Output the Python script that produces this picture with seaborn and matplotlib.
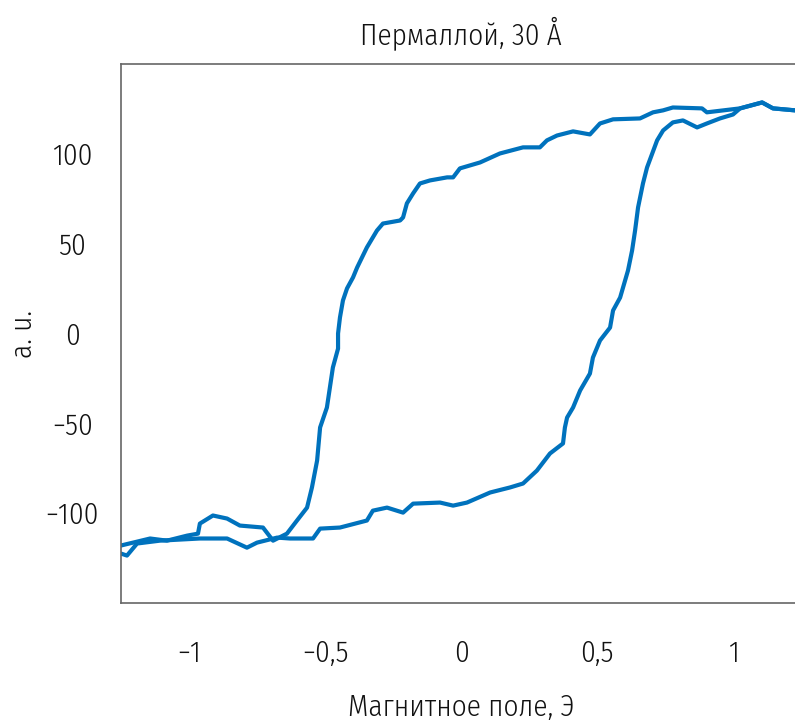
import matplotlib
matplotlib.use("Agg")
import matplotlib.pyplot as plt
import seaborn as sns
import pandas as pd
from matplotlib import font_manager
from matplotlib.ft2font import FT2Font

# Descending branch (from +H to -H)
down_x = [1.228, 1.147, 1.107, 1.026, 0.904, 0.886, 0.779, 0.743, 0.706, 0.658, 0.559, 0.511,
          0.474, 0.412, 0.353, 0.316, 0.290, 0.228, 0.143, 0.070, -0.004, -0.029, -0.051, -0.114,
          -0.151, -0.176, -0.199, -0.213, -0.224, -0.287, -0.309, -0.346, -0.382, -0.397, -0.419,
          -0.434, -0.445, -0.452, -0.452, -0.471, -0.493, -0.518, -0.529, -0.548, -0.566, -0.603,
          -0.640, -0.691, -0.728, -0.813, -0.860, -0.912, -0.960, -0.967, -1.007, -1.081, -1.143,
          -1.206, -1.250]
down_y = [124.2, 125.3, 128.6, 125.3, 123.1, 125.3, 125.8, 124.2, 123.1, 119.7, 119.2, 116.9,
          110.8, 112.5, 110.2, 107.5, 103.6, 103.6, 100.2, 95.2, 91.9, 86.9, 86.9, 85.2,
          83.5, 78.0, 72.4, 64.6, 62.9, 61.2, 57.3, 47.9, 36.7, 31.2, 25.1,
          18.4, 8.9, 0.0, -8.4, -18.9, -41.2, -52.3, -70.7, -85.7, -96.9, -104.1,
          -111.4, -115.3, -108.0, -106.9, -103.0, -101.3, -105.8, -111.4, -112.5, -115.3, -114.1,
          -116.4, -118.0]

# Ascending branch (from -H to +H)
up_x = [-1.250, -1.228, -1.191, -1.107, -0.960, -0.860, -0.787, -0.750, -0.676, -0.629, -0.544,
        -0.518, -0.445, -0.346, -0.324, -0.272, -0.213, -0.176, -0.077, -0.029, 0.022, 0.107,
        0.180, 0.228, 0.279, 0.327, 0.375, 0.382, 0.390, 0.412, 0.438, 0.474, 0.485, 0.511,
        0.548, 0.559, 0.585, 0.614, 0.629, 0.640, 0.651, 0.669, 0.684, 0.721, 0.743, 0.779,
        0.816, 0.868, 0.904, 0.952, 1.000, 1.026, 1.107, 1.147, 1.228]
up_y = [-122.5, -123.6, -116.9, -115.3, -114.1, -114.1, -119.2, -116.4, -113.6, -114.1, -114.1,
        -108.6, -108.0, -104.1, -98.6, -96.9, -99.7, -94.7, -94.1, -95.8, -94.1, -88.5,
        -85.7, -83.5, -76.3, -66.8, -61.2, -52.3, -46.8, -41.2, -31.7, -22.3, -13.4, -3.9,
        3.3, 12.8, 20.0, 35.1, 46.2, 57.3, 70.2, 83.5, 92.4, 107.5, 113.0, 117.5,
        118.6, 114.7, 116.9, 119.7, 121.9, 125.3, 128.6, 125.3, 124.2]

x_ticks = [-1, -0.5, 0, 0.5, 1]
x_ticklabels = ["\u22121", "\u22120,5", "0", "0,5", "1"]
y_ticks = [-100, -50, 0, 50, 100]
y_ticklabels = ["\u2212100", "\u221250", "0", "50", "100"]
title = "Пермаллой, 30 Å"
xlabel = "Магнитное поле, Э"
ylabel = "a. u."

sns.set_theme(style="white")

needed = set(ord(c) for c in (title + xlabel + ylabel + "\u22120123456789,"))

def covers(fname):
    try:
        cm = FT2Font(str(fname)).get_charmap()
    except Exception:
        return False
    return needed.issubset(cm.keys())

# pick a narrow / condensed font with Cyrillic coverage (prefer thin strokes)
cands = []
for f in font_manager.fontManager.ttflist:
    nm = f.name + " " + str(f.fname)
    narrow = ("Narrow" in nm or "Condensed" in nm or "condensed" in str(f.stretch))
    if narrow and f.style == "normal" and covers(f.fname):
        cands.append(f)
def score(f):
    w = f.weight if isinstance(f.weight, int) else 400
    return (abs(w - 300), f.name)
cands.sort(key=score)
if cands:
    chosen = cands[0]
    plt.rcParams['font.family'] = [chosen.name, "DejaVu Sans"]
    plt.rcParams['font.stretch'] = chosen.stretch
    wt = chosen.weight
    fs = 21
else:
    plt.rcParams['font.family'] = ["Roboto", "DejaVu Sans"]
    wt = "light"
    fs = 19
plt.rcParams['font.weight'] = wt
plt.rcParams['axes.labelweight'] = wt
plt.rcParams['axes.titleweight'] = wt

df = pd.concat([
    pd.DataFrame({"H": down_x, "M": down_y, "branch": "down", "order": range(len(down_x))}),
    pd.DataFrame({"H": up_x, "M": up_y, "branch": "up", "order": range(len(up_x))}),
])

fig = plt.figure(figsize=(7.95, 7.26), dpi=100)
ax = fig.add_axes([121/795, (726-603)/726, 680/795, 539/726])
for b in ["down", "up"]:
    d = df[df.branch == b]
    sns.lineplot(data=d, x="H", y="M", sort=False, estimator=None, ax=ax,
                 color="#0072BD", linewidth=3.0)

ax.set_xlim(-1.25, 1.25)
ax.set_ylim(-150, 150)
ax.set_xticks(x_ticks)
ax.set_xticklabels(x_ticklabels)
ax.set_yticks(y_ticks)
ax.set_yticklabels(y_ticklabels, ha="center")
ax.tick_params(axis="both", direction="in", length=5, width=1, color="#555555",
               labelsize=fs, labelcolor="#111111")
ax.tick_params(axis="x", pad=26)
ax.tick_params(axis="y", pad=35)
for s in ax.spines.values():
    s.set_color("#666666")
    s.set_linewidth(1.2)
ax.set_xlabel(xlabel, fontsize=fs, color="#111111", fontweight=wt)
ax.xaxis.set_label_coords(0.5, -0.167)
ax.set_ylabel(ylabel, fontsize=fs, color="#111111", fontweight=wt)
ax.yaxis.set_label_coords(-0.122, 0.5)
ax.set_title(title, fontsize=fs, color="#111111", pad=14, fontweight=wt)
fig.savefig("out.png", dpi=100)
